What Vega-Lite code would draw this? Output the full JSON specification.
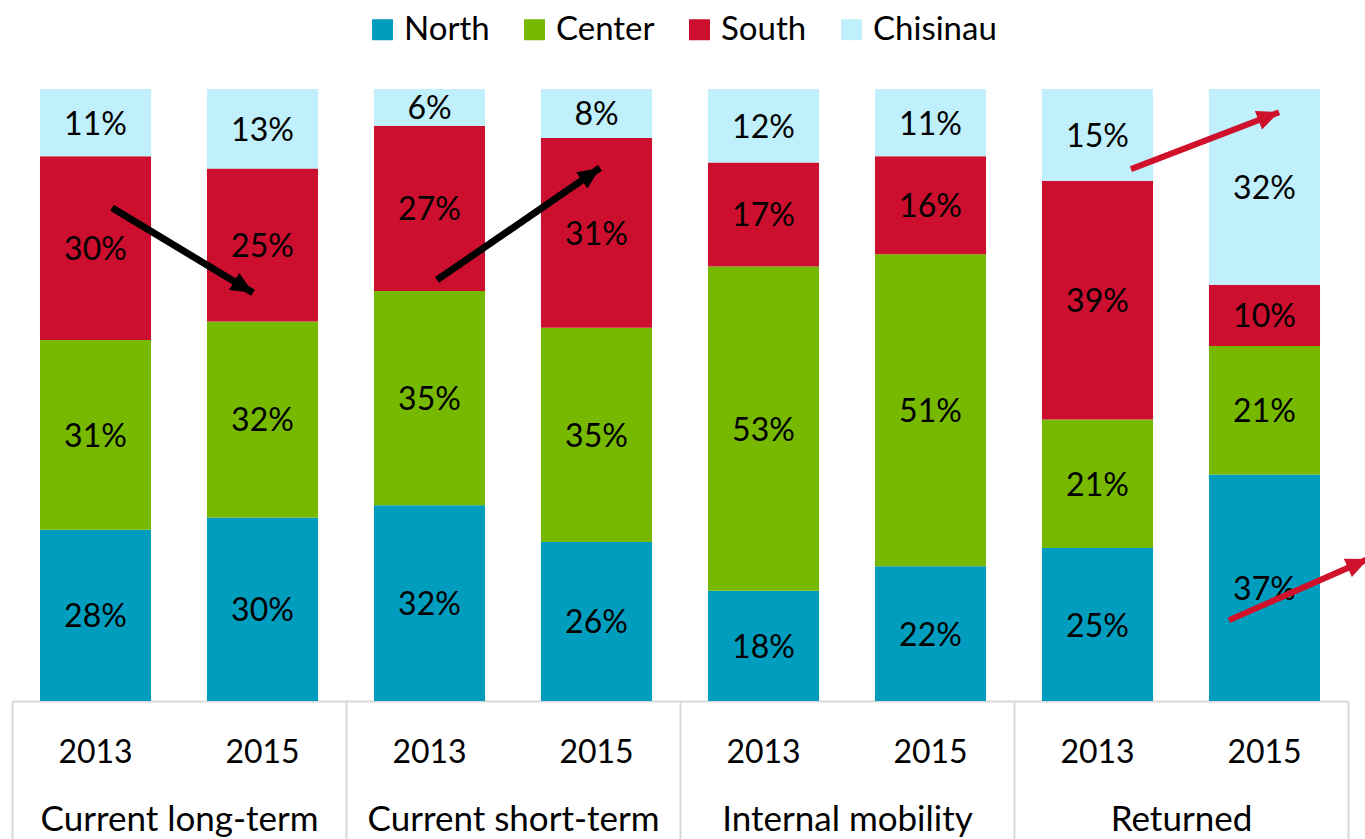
{
  "$schema": "https://vega.github.io/schema/vega-lite/v6.json",
  "width": 1336,
  "height": 612,
  "autosize": {"type": "none"},
  "padding": {"left": 12, "top": 89, "right": 17, "bottom": 138},
  "background": "white",
  "config": {
    "view": {"stroke": null},
    "font": "Lato",
    "axis": {"grid": false, "labelFont": "Lato", "labelColor": "black", "labelAngle": 0, "title": null, "labelLimit": 500}
  },
  "datasets": {
    "shares": [
      {"group": "Current long-term", "year": "2013", "region": "North", "value": 28},
      {"group": "Current long-term", "year": "2013", "region": "Center", "value": 31},
      {"group": "Current long-term", "year": "2013", "region": "South", "value": 30},
      {"group": "Current long-term", "year": "2013", "region": "Chisinau", "value": 11},
      {"group": "Current long-term", "year": "2015", "region": "North", "value": 30},
      {"group": "Current long-term", "year": "2015", "region": "Center", "value": 32},
      {"group": "Current long-term", "year": "2015", "region": "South", "value": 25},
      {"group": "Current long-term", "year": "2015", "region": "Chisinau", "value": 13},
      {"group": "Current short-term", "year": "2013", "region": "North", "value": 32},
      {"group": "Current short-term", "year": "2013", "region": "Center", "value": 35},
      {"group": "Current short-term", "year": "2013", "region": "South", "value": 27},
      {"group": "Current short-term", "year": "2013", "region": "Chisinau", "value": 6},
      {"group": "Current short-term", "year": "2015", "region": "North", "value": 26},
      {"group": "Current short-term", "year": "2015", "region": "Center", "value": 35},
      {"group": "Current short-term", "year": "2015", "region": "South", "value": 31},
      {"group": "Current short-term", "year": "2015", "region": "Chisinau", "value": 8},
      {"group": "Internal mobility", "year": "2013", "region": "North", "value": 18},
      {"group": "Internal mobility", "year": "2013", "region": "Center", "value": 53},
      {"group": "Internal mobility", "year": "2013", "region": "South", "value": 17},
      {"group": "Internal mobility", "year": "2013", "region": "Chisinau", "value": 12},
      {"group": "Internal mobility", "year": "2015", "region": "North", "value": 22},
      {"group": "Internal mobility", "year": "2015", "region": "Center", "value": 51},
      {"group": "Internal mobility", "year": "2015", "region": "South", "value": 16},
      {"group": "Internal mobility", "year": "2015", "region": "Chisinau", "value": 11},
      {"group": "Returned", "year": "2013", "region": "North", "value": 25},
      {"group": "Returned", "year": "2013", "region": "Center", "value": 21},
      {"group": "Returned", "year": "2013", "region": "South", "value": 39},
      {"group": "Returned", "year": "2013", "region": "Chisinau", "value": 15},
      {"group": "Returned", "year": "2015", "region": "North", "value": 37},
      {"group": "Returned", "year": "2015", "region": "Center", "value": 21},
      {"group": "Returned", "year": "2015", "region": "South", "value": 10},
      {"group": "Returned", "year": "2015", "region": "Chisinau", "value": 32}
    ],
    "arrows": [
      {"x": 0.599, "y": 80.6, "x2": 1.443, "y2": 66.7, "kind": "current"},
      {"x": 2.545, "y": 68.8, "x2": 3.521, "y2": 87.1, "kind": "current"},
      {"x": 6.70, "y": 86.9, "x2": 7.587, "y2": 96.2, "kind": "returned"},
      {"x": 7.287, "y": 13.2, "x2": 8.12, "y2": 23.2, "kind": "returned"}
    ]
  },
  "layer": [
    {
      "data": {"name": "shares"},
      "transform": [
        {"calculate": "datum.group + ' ' + datum.year", "as": "bar"},
        {"calculate": "indexof(['North','Center','South','Chisinau'], datum.region)", "as": "ord"},
        {"stack": "value", "groupby": ["bar"], "sort": [{"field": "ord", "order": "ascending"}], "as": ["v0", "v1"]},
        {"calculate": "(datum.v0 + datum.v1) / 2", "as": "vmid"},
        {"calculate": "datum.value + '%'", "as": "label"}
      ],
      "encoding": {
        "x": {
          "field": "bar",
          "type": "nominal",
          "sort": "ascending",
          "scale": {"type": "band", "paddingInner": 0.335, "paddingOuter": 0.1675},
          "axis": {
            "orient": "bottom",
            "labelExpr": "slice(datum.label, -4)",
            "domain": true,
            "domainColor": "#d9d9d9",
            "domainWidth": 2,
            "ticks": false,
            "labelFontSize": 32,
            "labelPadding": 36
          }
        }
      },
      "layer": [
        {
          "mark": {"type": "bar"},
          "encoding": {
            "y": {"field": "v0", "type": "quantitative", "scale": {"domain": [0, 100], "nice": false}, "axis": null},
            "y2": {"field": "v1"},
            "color": {
              "field": "region",
              "type": "nominal",
              "scale": {
                "domain": ["North", "Center", "South", "Chisinau"],
                "range": ["#009DBF", "#77B900", "#CC0F2E", "#C0F0FC"]
              },
              "legend": {
                "title": null,
                "orient": "none",
                "legendX": 354,
                "legendY": -76,
                "direction": "horizontal",
                "symbolType": "square",
                "symbolSize": 441,
                "symbolStrokeWidth": 0,
                "labelFontSize": 33,
                "labelFont": "Lato",
                "labelColor": "black",
                "labelOffset": 5,
                "columnPadding": 28,
                "padding": 0
              }
            }
          }
        },
        {
          "mark": {"type": "text", "fontSize": 32, "font": "Lato", "color": "black", "baseline": "middle", "align": "center", "dy": 2},
          "encoding": {
            "y": {"field": "vmid", "type": "quantitative"},
            "text": {"field": "label", "type": "nominal"}
          }
        }
      ]
    },
    {
      "data": {"name": "shares"},
      "mark": {"type": "tick", "opacity": 0},
      "encoding": {
        "x": {
          "field": "group",
          "type": "nominal",
          "sort": "ascending",
          "scale": {"type": "band", "paddingInner": 0, "paddingOuter": 0},
          "axis": {
            "orient": "bottom",
            "domain": false,
            "ticks": true,
            "tickBand": "extent",
            "tickSize": 138,
            "tickColor": "#d9d9d9",
            "tickWidth": 2,
            "labelFontSize": 35,
            "labelPadding": -37
          }
        }
      }
    },
    {
      "data": {"name": "arrows"},
      "transform": [
        {"calculate": "atan2((datum.x2 - datum.x) * 167, (datum.y2 - datum.y) * 6.12) * 180 / PI", "as": "angle"}
      ],
      "layer": [
        {
          "mark": {"type": "rule"},
          "encoding": {
            "x": {"field": "x", "type": "quantitative", "scale": {"domain": [0, 8], "nice": false, "zero": false}, "axis": null},
            "y": {"field": "y", "type": "quantitative"},
            "x2": {"field": "x2"},
            "y2": {"field": "y2"},
            "color": {"condition": {"test": "datum.kind == 'returned'", "value": "#D0112B"}, "value": "black"},
            "strokeWidth": {"condition": {"test": "datum.kind == 'returned'", "value": 6}, "value": 7}
          }
        },
        {
          "mark": {"type": "point", "filled": true, "opacity": 1, "shape": "M0,0L0.9,2L-0.9,2Z", "size": 484, "strokeWidth": 0},
          "encoding": {
            "x": {"field": "x2", "type": "quantitative"},
            "y": {"field": "y2", "type": "quantitative"},
            "angle": {"field": "angle", "type": "quantitative", "scale": null},
            "color": {"condition": {"test": "datum.kind == 'returned'", "value": "#D0112B"}, "value": "black"}
          }
        }
      ]
    }
  ],
  "resolve": {"scale": {"x": "independent"}, "axis": {"x": "independent"}}
}
